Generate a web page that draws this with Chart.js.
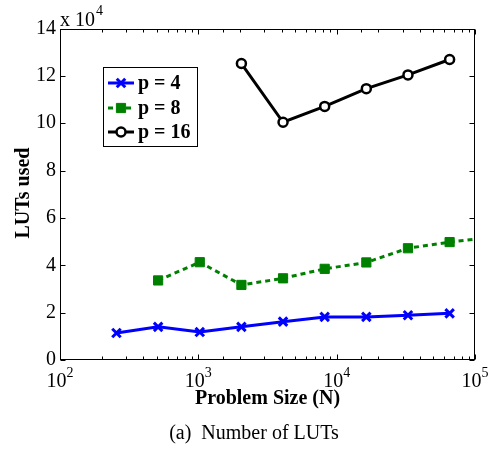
<!DOCTYPE html>
<html>
<head>
<meta charset="utf-8">
<script src="https://cdn.jsdelivr.net/npm/chart.js@4/dist/chart.umd.min.js"></script>
<style>
  html, body { margin: 0; padding: 0; background: #fff; }
  #wrap { width: 493px; height: 449px; }
</style>
</head>
<body>
<div id="wrap"><canvas id="c" width="493" height="449"></canvas></div>
<script>
// ---- data (LUTs in units of 10^4) ----
const sizesP4 = [256, 512, 1024, 2048, 4096, 8192, 16384, 32768, 65536];
const lutsP4 = [1.14, 1.40, 1.18, 1.40, 1.62, 1.82, 1.82, 1.89, 1.97];
const sizesP8 = [512, 1024, 2048, 4096, 8192, 16384, 32768, 65536, 131072];
const lutsP8 = [3.36, 4.13, 3.17, 3.45, 3.85, 4.12, 4.72, 4.98, 5.18];
const sizesP16 = [2048, 4096, 8192, 16384, 32768, 65536];
const lutsP16 = [12.52, 10.04, 10.71, 11.46, 12.04, 12.69];
const seriesLabels = ['p = 4', 'p = 8', 'p = 16'];
const xTickExponents = [2, 3, 4, 5];
const yTickValues = [0, 2, 4, 6, 8, 10, 12, 14];
const yMultiplierExp = '4';
const xTitle = 'Problem Size (N)';
const yTitle = 'LUTs used';
const caption = '(a)  Number of LUTs';

const SERIF = "'Liberation Serif', serif";
Chart.defaults.font.family = SERIF;

function pts(xs, ys) { return xs.map((x, i) => ({ x: x, y: ys[i] })); }

const styles = [
  { color: '#0000ff', dash: [], pointStyle: 'crossRot', radius: 6, pbw: 3, fill: '#0000ff' },
  { color: '#008000', dash: [5, 4], pointStyle: 'rect', radius: 6.5, pbw: 1, fill: '#008000' },
  { color: '#000000', dash: [], pointStyle: 'circle', radius: 4.5, pbw: 2.5, fill: '#ffffff' }
];
const seriesData = [pts(sizesP4, lutsP4), pts(sizesP8, lutsP8), pts(sizesP16, lutsP16)];

const datasets = seriesData.map((d, i) => ({
  label: seriesLabels[i],
  data: d,
  borderColor: styles[i].color,
  backgroundColor: styles[i].color,
  borderWidth: 3,
  borderDash: styles[i].dash,
  borderCapStyle: 'butt',
  pointStyle: styles[i].pointStyle,
  pointRadius: styles[i].radius,
  pointBorderWidth: styles[i].pbw,
  pointBorderColor: styles[i].color,
  pointBackgroundColor: styles[i].fill,
  pointHoverRadius: styles[i].radius,
  tension: 0,
  fill: false
}));

function drawMarker(ctx, style, x, y) {
  ctx.save();
  ctx.setLineDash([]);
  ctx.strokeStyle = style.color;
  ctx.fillStyle = style.fill;
  ctx.lineWidth = style.pbw;
  const r = style.radius;
  ctx.beginPath();
  if (style.pointStyle === 'crossRot') {
    const d = r * Math.SQRT1_2;
    ctx.moveTo(x - d, y - d); ctx.lineTo(x + d, y + d);
    ctx.moveTo(x - d, y + d); ctx.lineTo(x + d, y - d);
    ctx.stroke();
  } else if (style.pointStyle === 'rect') {
    const s = r * Math.SQRT1_2;
    ctx.rect(x - s, y - s, 2 * s, 2 * s);
    ctx.fill(); ctx.stroke();
  } else {
    ctx.arc(x, y, r, 0, Math.PI * 2);
    ctx.fill(); ctx.stroke();
  }
  ctx.restore();
}

const decorPlugin = {
  id: 'decor',
  afterDraw(chart) {
    const ctx = chart.ctx;
    const a = chart.chartArea;
    const xs = chart.scales.x, ys = chart.scales.y;
    ctx.save();
    ctx.strokeStyle = '#000';
    ctx.lineWidth = 1;
    ctx.setLineDash([]);
    const L = Math.round(a.left) + 0.5, R = Math.round(a.right) - 0.5;
    const T = Math.round(a.top) + 0.5, B = Math.round(a.bottom) - 0.5;
    ctx.strokeRect(L, T, R - L, B - T);
    ctx.beginPath();
    xs.ticks.forEach(t => {
      const v = t.value;
      if (v < xs.min || v > xs.max) return;
      const px = Math.round(xs.getPixelForValue(v)) + 0.5;
      const major = Math.abs(Math.log10(v) - Math.round(Math.log10(v))) < 1e-9;
      const len = major ? 5 : 3;
      ctx.moveTo(px, B); ctx.lineTo(px, B - len);
      ctx.moveTo(px, T); ctx.lineTo(px, T + len);
    });
    yTickValues.forEach(v => {
      const py = Math.round(ys.getPixelForValue(v)) + 0.5;
      ctx.moveTo(L, py); ctx.lineTo(L + 5, py);
      ctx.moveTo(R, py); ctx.lineTo(R - 5, py);
    });
    ctx.stroke();

    ctx.fillStyle = '#000';
    ctx.textBaseline = 'alphabetic';
    xTickExponents.forEach(e => {
      const px = xs.getPixelForValue(Math.pow(10, e));
      ctx.font = '20px ' + SERIF;
      const wb = ctx.measureText('10').width;
      ctx.font = '14px ' + SERIF;
      const we = ctx.measureText(String(e)).width;
      const left = px - (wb + we) / 2;
      ctx.font = '20px ' + SERIF;
      ctx.textAlign = 'left';
      ctx.fillText('10', left, 387);
      ctx.font = '14px ' + SERIF;
      ctx.fillText(String(e), left + wb, 377);
    });

    ctx.font = '20px ' + SERIF;
    ctx.textAlign = 'left';
    ctx.fillText('x 10', a.left, 26);
    const wm = ctx.measureText('x 10').width;
    ctx.font = '14px ' + SERIF;
    ctx.fillText(yMultiplierExp, a.left + wm + 1, 15);

    ctx.font = 'bold 20px ' + SERIF;
    ctx.textAlign = 'center';
    ctx.textBaseline = 'middle';
    ctx.fillText(xTitle, (a.left + a.right) / 2, 399);
    ctx.save();
    ctx.translate(24, 193);
    ctx.rotate(-Math.PI / 2);
    ctx.fillText(yTitle, 0, 0);
    ctx.restore();

    ctx.font = '20px ' + SERIF;
    ctx.textAlign = 'center';
    ctx.textBaseline = 'middle';
    ctx.fillText(caption, 254, 434);

    const bx = 103.5, by = 67.5, bw = 94, bh = 79;
    ctx.fillStyle = '#fff';
    ctx.fillRect(bx, by, bw, bh);
    ctx.strokeStyle = '#000';
    ctx.lineWidth = 1;
    ctx.strokeRect(bx, by, bw, bh);
    const rowsY = [83, 108, 132];
    seriesLabels.forEach((lab, i) => {
      const st = styles[i];
      const y = rowsY[i];
      ctx.save();
      ctx.strokeStyle = st.color;
      ctx.lineWidth = 3;
      ctx.setLineDash(st.dash);
      ctx.beginPath();
      ctx.moveTo(108, y); ctx.lineTo(134, y);
      ctx.stroke();
      ctx.restore();
      drawMarker(ctx, st, 121, y);
      ctx.fillStyle = '#000';
      ctx.font = 'bold 20px ' + SERIF;
      ctx.textAlign = 'left';
      ctx.textBaseline = 'middle';
      ctx.fillText(lab, 138, y + 1);
    });
    ctx.restore();
  }
};

function build() {
  new Chart(document.getElementById('c'), {
    type: 'line',
    data: { datasets: datasets },
    options: {
      responsive: false,
      animation: false,
      events: [],
      font: { family: SERIF },
      layout: { padding: { top: 28.5, right: 18, left: 0, bottom: 0 } },
      plugins: { legend: { display: false }, tooltip: { enabled: false }, title: { display: false } },
      scales: {
        x: {
          type: 'logarithmic',
          position: 'bottom',
          min: 100,
          max: 100000,
          grid: { display: false, drawTicks: false },
          border: { display: false },
          ticks: { display: false },
          afterFit: s => { s.height = 89; }
        },
        y: {
          type: 'linear',
          min: 0,
          max: 14,
          grid: { display: false, drawTicks: false },
          border: { display: false },
          afterBuildTicks: s => { s.ticks = yTickValues.map(v => ({ value: v })); },
          ticks: {
            stepSize: 2,
            padding: 4,
            color: '#000',
            font: { family: SERIF, size: 20, weight: 'normal' }
          },
          afterFit: s => { s.width = 60; }
        }
      }
    },
    plugins: [decorPlugin]
  });
}

if (document.fonts && document.fonts.load) {
  Promise.all([
    document.fonts.load("20px 'Liberation Serif'"),
    document.fonts.load("bold 20px 'Liberation Serif'")
  ]).then(build, build);
} else {
  build();
}
</script>
</body>
</html>
